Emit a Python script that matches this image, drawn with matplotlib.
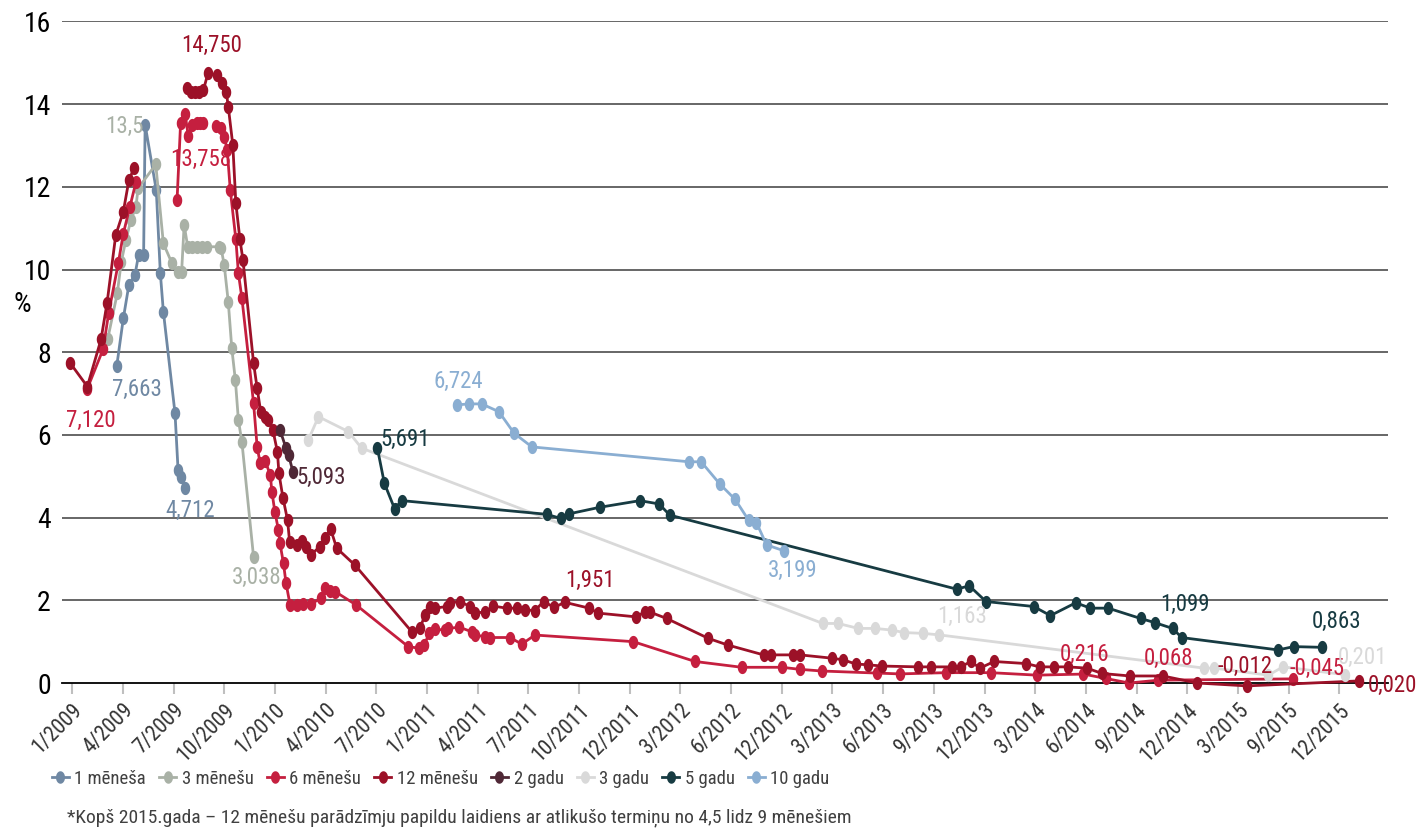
import numpy as np
import matplotlib
matplotlib.use("Agg")
import matplotlib.pyplot as plt
from matplotlib.path import Path
from matplotlib.lines import Line2D
from matplotlib import font_manager as fm

# pick a condensed font if one is installed
_avail = {(f.name, f.stretch) for f in fm.fontManager.ttflist}
_names = {n for n, s in _avail}
FONT_NOTE = ""
if "Liberation Sans Narrow" in _names:
    plt.rcParams['font.family'] = ['Liberation Sans Narrow', 'DejaVu Sans']
    FONT_NOTE = "narrow"
elif "Roboto Condensed" in _names:
    plt.rcParams['font.family'] = ['Roboto Condensed', 'DejaVu Sans']
    FONT_NOTE = "robotoc"
elif ("DejaVu Sans", "condensed") in _avail or ("DejaVu Sans", "semi-condensed") in _avail:
    plt.rcParams['font.family'] = ['DejaVu Sans']
    plt.rcParams['font.stretch'] = 'condensed'
    FONT_NOTE = "dvcond"
else:
    plt.rcParams['font.family'] = ['Liberation Sans', 'DejaVu Sans']
    FONT_NOTE = "libsans"

nan = np.nan

# x tick categories (evenly spaced on the axis)
tick_labels = ["1/2009", "4/2009", "7/2009", "10/2009", "1/2010", "4/2010", "7/2010",
               "1/2011", "4/2011", "7/2011", "10/2011", "12/2011", "3/2012", "6/2012",
               "12/2012", "3/2013", "6/2013", "9/2013", "12/2013", "3/2014", "6/2014",
               "9/2014", "12/2014", "3/2015", "9/2015", "12/2015"]

# positions on the category axis (in tick units) and yields (%)
m1_x = [0.88, 1.01, 1.12, 1.24, 1.31, 1.41, 1.44, 1.66, 1.74, 1.80, 2.03, 2.09, 2.15, 2.23]
m1_y = [7.663, 8.82, 9.63, 9.87, 10.35, 10.35, 13.5, 11.92, 9.91, 8.98, 6.52, 5.15, 4.99, 4.712]

m3_x = [0.70, 0.89, 0.97, 1.06, 1.16, 1.26, 1.30, 1.65, 1.80, 1.97, 2.08, 2.16, 2.21, 2.28,
        2.37, 2.46, 2.56, 2.66, 2.89, 2.94, 3.00, 3.08, 3.15, 3.22, 3.28, 3.35, 3.58]
m3_y = [8.31, 9.42, 10.19, 10.71, 11.20, 11.52, 11.96, 12.54, 10.63, 10.15, 9.95, 9.95, 11.08,
        10.55, 10.55, 10.55, 10.55, 10.55, 10.55, 10.51, 10.11, 9.22, 8.09, 7.33, 6.36, 5.82, 3.038]

m6_x = [0.30, 0.61, 0.72, 0.91, 1.01, 1.14, 1.26, nan,
        2.07, 2.14, 2.23, 2.29, 2.36, 2.46, 2.52, 2.59, nan,
        2.84, 2.93, 3.00, 3.06, 3.12, 3.23, 3.28, 3.35, 3.58, 3.65, 3.71, 3.81, 3.91, 3.94,
        4.00, 4.07, 4.10, 4.17, 4.22, 4.30, 4.43, 4.55, 4.71, 4.91, 4.99, 5.09, 5.19, 5.60,
        6.63, 6.85, 6.94, 7.05, 7.16, 7.36, 7.42, 7.64, 7.88, 7.95, 8.15, 8.24, 8.64, 8.87,
        9.13, 11.07, 12.29, 13.21, 14.00, 14.36, 14.79, 15.88, 16.33, 17.24, 18.12, 19.03,
        19.95, 20.39, 20.85, 21.43, 24.09]
m6_y = [7.12, 8.07, 8.94, 10.15, 10.87, 11.52, 12.12, nan,
        11.68, 13.55, 13.758, 13.23, 13.49, 13.55, 13.55, 13.55, nan,
        13.46, 13.42, 13.21, 12.89, 11.92, 10.73, 9.91, 9.30, 6.76, 5.71, 5.31, 5.36, 5.03, 4.63,
        4.14, 3.70, 3.38, 2.89, 2.41, 1.89, 1.89, 1.91, 1.91, 2.05, 2.29, 2.23, 2.21, 1.89,
        0.88, 0.84, 0.92, 1.20, 1.30, 1.28, 1.32, 1.35, 1.24, 1.16, 1.12, 1.10, 1.10, 0.94,
        1.16, 1.00, 0.52, 0.38, 0.38, 0.33, 0.29, 0.24, 0.22, 0.25, 0.25, 0.19,
        0.216, 0.11, 0.00, 0.068, 0.10]

m12_x = [-0.04, 0.30, 0.57, 0.69, 0.86, 1.01, 1.12, 1.22, nan,
         2.27, 2.34, 2.43, 2.51, 2.59, 2.68, 2.85, 2.95, 3.04, 3.08, 3.17, 3.23, 3.31, 3.37,
         3.58, 3.65, 3.72, 3.81, 3.87, 3.96, 4.05, 4.08, 4.16, 4.25, 4.29, 4.43, 4.53, 4.62,
         4.71, 4.89, 4.99, 5.10, 5.22, 5.58, 6.70, 6.86, 6.96, 7.06, 7.16, 7.39, 7.46, 7.65,
         7.85, 7.95, 8.15, 8.31, 8.57, 8.77, 8.93, 9.13, 9.30, 9.51, 9.72, 10.20, 10.38, 11.12,
         11.30, 11.41, 11.73, 12.55, 12.93, 13.64, 13.78, 14.23, 14.36, 14.99, 15.21, 15.46,
         15.70, 15.98, 16.69, 16.94, 17.36, 17.53, 17.73, 17.91, 18.19, 18.82, 19.09, 19.37,
         19.64, 20.02, 20.32, 20.87, 21.52, 22.19, 23.18, 25.38]
m12_y = [7.74, 7.17, 8.31, 9.20, 10.83, 11.40, 12.16, 12.45, nan,
         14.38, 14.30, 14.30, 14.30, 14.34, 14.75, 14.70, 14.50, 14.30, 13.94, 13.01, 11.60, 10.73, 10.23,
         7.73, 7.13, 6.56, 6.44, 6.36, 6.12, 5.59, 5.07, 4.47, 3.94, 3.42, 3.34, 3.44, 3.30,
         3.10, 3.30, 3.50, 3.72, 3.26, 2.85, 1.24, 1.32, 1.64, 1.85, 1.81, 1.85, 1.94, 1.97,
         1.85, 1.69, 1.72, 1.86, 1.81, 1.81, 1.77, 1.75, 1.97, 1.83, 1.951, 1.81, 1.69, 1.60,
         1.72, 1.71, 1.56, 1.08, 0.92, 0.68, 0.68, 0.68, 0.68, 0.60, 0.56, 0.46,
         0.44, 0.41, 0.39, 0.39, 0.39, 0.39, 0.52, 0.36, 0.52, 0.47, 0.39, 0.39,
         0.39, 0.36, 0.23, 0.17, 0.17, 0.00, -0.07, 0.05]

y2_x = [4.10, 4.22, 4.27, 4.36]
y2_y = [6.12, 5.68, 5.51, 5.093]

y3_x = [4.66, 4.86, 5.45, 5.71, 14.81, 15.11, 15.51, 15.84, 16.17, 16.41, 16.79, 17.11,
        22.33, 22.53, 23.60, 23.89, 25.11]
y3_y = [5.88, 6.44, 6.08, 5.68, 1.44, 1.44, 1.32, 1.32, 1.28, 1.22, 1.20, 1.163,
        0.36, 0.36, 0.19, 0.39, 0.201]

y5_x = [6.02, 6.16, 6.36, 6.51, 9.36, 9.64, 9.80, 10.41, 11.20, 11.58, 11.79, 17.45, 17.70,
        18.03, 18.97, 19.30, 19.80, 20.09, 20.44, 21.08, 21.36, 21.71, 21.89, 23.79, 24.10, 24.65]
y5_y = [5.691, 4.83, 4.22, 4.41, 4.08, 3.98, 4.09, 4.25, 4.41, 4.33, 4.06, 2.27, 2.35,
        1.97, 1.85, 1.63, 1.94, 1.81, 1.81, 1.56, 1.46, 1.32, 1.099, 0.80, 0.88, 0.863]

y10_x = [7.59, 7.82, 8.08, 8.42, 8.72, 9.07, 12.17, 12.41, 12.78, 13.08, 13.35, 13.50, 13.70, 14.04]
y10_y = [6.724, 6.75, 6.75, 6.56, 6.04, 5.71, 5.35, 5.35, 4.81, 4.44, 3.93, 3.88, 3.34, 3.199]

series_names = ["1 mēneša", "3 mēnešu", "6 mēnešu", "12 mēnešu", "2 gadu", "3 gadu", "5 gadu", "10 gadu"]
series_colors = ["#6f88a3", "#a9b1a6", "#c51f3f", "#9c1128", "#4f2836", "#d9d9d9", "#173b42", "#8aaed2"]
series_data = [(m1_x, m1_y), (m3_x, m3_y), (m6_x, m6_y), (m12_x, m12_y),
               (y2_x, y2_y), (y3_x, y3_y), (y5_x, y5_y), (y10_x, y10_y)]

# value annotations: (text, x, y, series index)
annotations = [
    ("14,750", 2.76, 15.43, 3), ("13,758", 2.54, 12.65, 2), ("13,5", 1.03, 13.45, 1),
    ("7,663", 1.28, 7.11, 0), ("7,120", 0.36, 6.36, 2), ("4,712", 2.33, 4.18, 0),
    ("3,038", 3.65, 2.56, 1), ("5,093", 4.91, 4.98, 4), ("5,691", 6.57, 5.88, 6),
    ("6,724", 7.61, 7.30, 7), ("1,951", 10.22, 2.49, 3), ("3,199", 14.22, 2.73, 7),
    ("1,163", 17.55, 1.60, 5), ("1,099", 21.95, 1.91, 6), ("0,863", 24.95, 1.50, 6),
    ("0,216", 19.98, 0.70, 2), ("0,068", 21.62, 0.60, 2), ("-0,012", 23.14, 0.41, 3),
    ("-0,045", 24.55, 0.36, 2), ("0,201", 25.45, 0.62, 5), ("0,020", 26.05, -0.05, 3),
]

if FONT_NOTE in ("narrow", "robotoc", "dvcond"):
    ann_fs, ytick_fs, xtick_fs, leg_fs, note_fs = 16.5, 20, 15.5, 13.5, 14
else:
    ann_fs, ytick_fs, xtick_fs, leg_fs, note_fs = 14.5, 18, 13, 11, 12.5

# elliptical marker (taller than wide)
th = np.linspace(0, 2 * np.pi, 40)
ell = Path(np.column_stack([0.72 * np.cos(th), np.sin(th)]), closed=True)

fig = plt.figure(figsize=(14.17, 8.32), dpi=100)
ax = fig.add_axes([62 / 1417, 1 - 683 / 832, (1388 - 62) / 1417, (683 - 21.4) / 832])
ax.set_xlim(-0.2, 25.96)
ax.set_ylim(0, 16)

for yv in range(2, 17, 2):
    ax.axhline(yv, color="#5a5a5a", lw=1.3, zorder=1)

for (xs, ys), c in zip(series_data, series_colors):
    ax.plot(xs, ys, color=c, lw=2.0, marker=ell, markersize=9.5, markeredgewidth=0,
            zorder=3, clip_on=False)

for txt, x, y, si in annotations:
    ax.text(x, y, txt, color=series_colors[si], fontsize=ann_fs, ha="center", va="center",
            zorder=5, clip_on=False)

for s in ["left", "right", "top"]:
    ax.spines[s].set_visible(False)
ax.spines["bottom"].set_color("black")
ax.spines["bottom"].set_linewidth(1.3)

ax.set_yticks(range(0, 17, 2))
ax.set_yticklabels([str(v) for v in range(0, 17, 2)], fontsize=ytick_fs)
ax.tick_params(axis="y", length=0, pad=8)

ax.set_xticks(range(len(tick_labels)))
ax.set_xticklabels(tick_labels, rotation=45, ha="right", rotation_mode="anchor", fontsize=xtick_fs,
                   color="#333333")
ax.tick_params(axis="x", length=8, width=1.5, color="#bfbfbf", pad=4)

fig.text(22 / 1417, 1 - 305 / 832, "%", fontsize=ytick_fs, ha="center", va="center")

handles = [Line2D([0], [0], color=c, lw=2.0, marker=ell, markersize=9, markeredgewidth=0)
           for c in series_colors]
fig.legend(handles, series_names, loc="center left", bbox_to_anchor=(52 / 1417, 1 - 779 / 832),
           ncol=8, frameon=False, fontsize=leg_fs, handlelength=0.9, handletextpad=0.3,
           columnspacing=0.7, labelcolor="#404040", borderaxespad=0, borderpad=0)

fig.text(67 / 1417, 1 - 818 / 832,
         "*Kopš 2015.gada – 12 mēnešu parādzīmju papildu laidiens ar atlikušo termiņu no 4,5 lidz 9 mēnešiem",
         fontsize=note_fs, color="#404040", ha="left", va="center")

fig.savefig("out.png", dpi=100)
